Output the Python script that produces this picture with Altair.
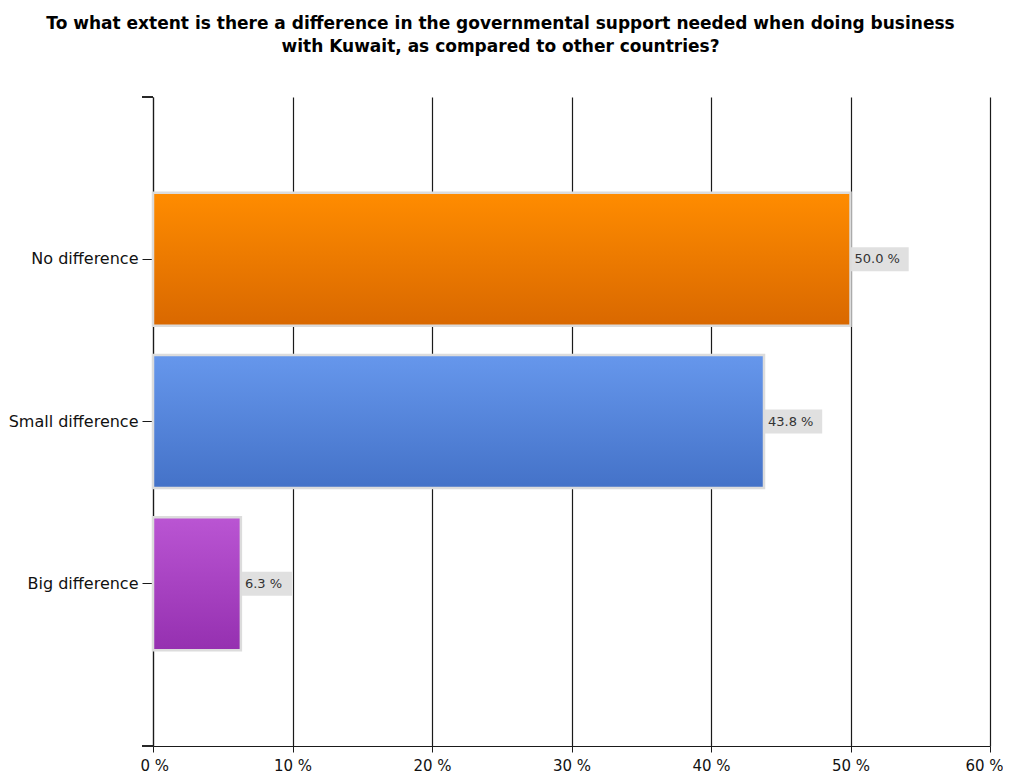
import altair as alt
import pandas as pd

categories = ["No difference", "Small difference", "Big difference"]
values = [50.0, 43.8, 6.3]
labels = ["50.0 %", "43.8 %", "6.3 %"]
top_colors = ["#FF8C00", "#6697EC", "#BA55D3"]
bottom_colors = ["#D96800", "#4472C8", "#9530B0"]
x_ticks = [0, 10, 20, 30, 40, 50, 60]
title_lines = [
    "To what extent is there a difference in the governmental support needed when doing business",
    "with Kuwait, as compared to other countries?",
]

df = pd.DataFrame({"category": categories, "value": values, "label": labels})

W, H = 837, 649

y_enc = alt.Y(
    "category:N",
    sort=categories,
    scale=alt.Scale(domain=categories, paddingInner=0.18, paddingOuter=0.59),
    axis=alt.Axis(
        title=None, grid=False, domain=True, domainColor="#1a1a1a", domainWidth=1.2,
        ticks=True, tickSize=11, tickColor="#1a1a1a", labelPadding=4,
        labelFont="DejaVu Sans", labelFontSize=16, labelColor="#111111",
    ),
)
x_scale = alt.Scale(domain=[0, 60], nice=False)
x_axis = alt.Axis(
    title=None, values=x_ticks, labelExpr="datum.value + ' %'",
    grid=True, gridColor="#1a1a1a", gridWidth=1.2,
    domain=True, domainColor="#1a1a1a", domainWidth=1.2,
    ticks=True, tickSize=6, tickColor="#1a1a1a", labelPadding=6,
    labelFlush=True, labelFlushOffset=13, labelOverlap=False,
    labelFont="DejaVu Sans", labelFontSize=15, labelColor="#111111",
)

base = alt.Chart(df)

boxes = base.transform_calculate(
    end="datum.value + (length(datum.label) * 7.2 + 15) / 13.95"
).mark_bar(color="#E0E0E0", size=24).encode(
    x=alt.X("value:Q", scale=x_scale, axis=x_axis),
    x2="end:Q",
    y=y_enc,
)

bar_layers = []
for cat, tc, bc in zip(categories, top_colors, bottom_colors):
    grad = alt.Gradient(
        gradient="linear",
        stops=[alt.GradientStop(offset=0, color=tc), alt.GradientStop(offset=1, color=bc)],
        x1=0, x2=0, y1=0, y2=1,
    )
    bar_layers.append(
        base.transform_filter(alt.datum.category == cat)
        .mark_bar(color=grad, stroke="#DCDCDC", strokeWidth=2.5)
        .encode(x=alt.X("value:Q", scale=x_scale, axis=x_axis), y=y_enc)
    )

texts = base.mark_text(
    align="left", baseline="middle", dx=4, font="DejaVu Sans", fontSize=13, color="#333333"
).encode(
    x=alt.X("value:Q", scale=x_scale, axis=x_axis),
    y=y_enc,
    text="label:N",
)

corner = alt.Chart(df).mark_rule(color="#1a1a1a", strokeWidth=1.2).encode(
    x=alt.value(-11), x2=alt.value(0), y=alt.value(0)
)
corner_bottom = alt.Chart(df).mark_rule(color="#1a1a1a", strokeWidth=1.2).encode(
    x=alt.value(-11), x2=alt.value(0), y=alt.value(H)
)

chart = alt.layer(boxes, *bar_layers, texts, corner, corner_bottom).properties(
    width=W,
    height=H,
    title=alt.TitleParams(
        text=title_lines, font="DejaVu Sans", fontSize=17, fontWeight="bold",
        color="#000000", anchor="middle", dx=-71, offset=40, lineHeight=23,
    ),
    autosize=alt.AutoSizeParams(type="none"),
    padding={"left": 145, "top": 89, "right": 13, "bottom": 30},
).configure_view(stroke=None)

chart.save("out.html", embed_options={"renderer": "svg", "actions": False})
